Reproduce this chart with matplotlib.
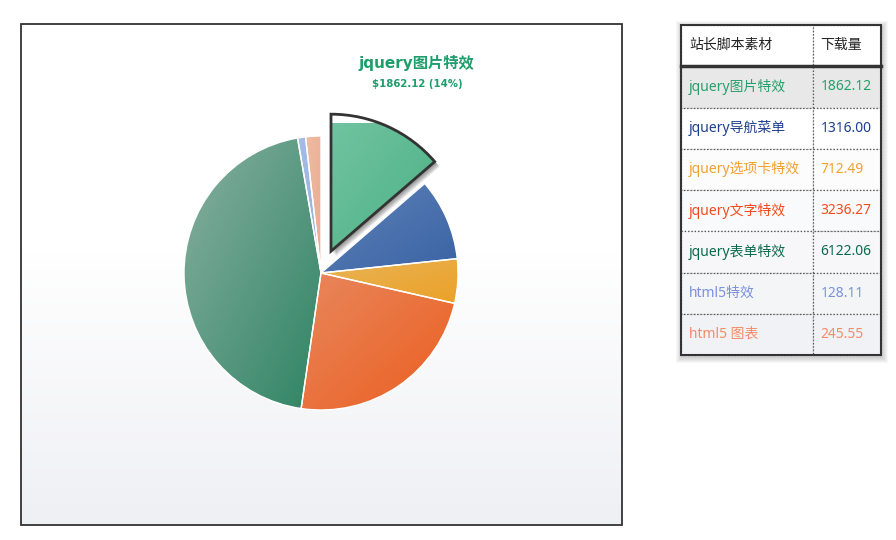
import numpy as np
import matplotlib
matplotlib.use('Agg')
import matplotlib.pyplot as plt
from matplotlib.colors import to_rgb
from matplotlib.patches import Rectangle, Wedge

plt.rcParams['font.family'] = ['DejaVu Sans', 'Noto Sans CJK SC']

# datos
names = ['jquery图片特效', 'jquery导航菜单', 'jquery选项卡特效', 'jquery文字特效',
         'jquery表单特效', 'html5特效', 'html5 图表']
values = [1862.12, 1316.00, 712.49, 3236.27, 6122.06, 128.11, 245.55]
header = ['站长脚本素材', '下载量']
selected = 0

# colores
light = ['#72c4a2', '#5f82b8', '#e9b457', '#e8875d', '#88b0a0', '#a6bde6', '#efbba4']
dark = ['#4cb184', '#3a63a4', '#eba128', '#ec5e1f', '#2f8464', '#93aedd', '#e9ab90']
text_colors = ['#25a06c', '#1f3f8e', '#f2a12e', '#f24b1f', '#0b6a4a', '#7b90e0', '#f68b66']
tfont = ['Noto Sans', 'Noto Sans CJK SC']


def fill_grad(ax, patch, c1, c2, z):
    x0, y0, x1, y1 = patch.get_path().get_extents().extents
    u = np.linspace(0, 1, 200)
    U, V = np.meshgrid(u, u)
    t = ((U + V) / 2)[..., None]
    img = np.array(to_rgb(c1)) * (1 - t) + np.array(to_rgb(c2)) * t
    im = ax.imshow(img, extent=(x0, x1, y0, y1), origin='upper',
                   interpolation='bilinear', zorder=z)
    im.set_clip_path(patch)


fig = plt.figure(figsize=(8.96, 5.40), dpi=100)

# fondo en pixeles
bg = fig.add_axes([0, 0, 1, 1])
bg.axis('off')
ys = np.arange(24, 526)
t = np.clip((ys - 250) / (525 - 250), 0, 1)[:, None, None]
col = np.ones(3) * (1 - t) + np.array([0.937, 0.941, 0.957]) * t
col = np.repeat(col, 2, axis=1)
bg.imshow(col, extent=(21, 622, 525, 24), origin='upper', aspect='auto', zorder=0)
bg.add_patch(Rectangle((21, 24), 601, 501, fill=False, ec='#333333', lw=1.3, zorder=2))
# sombra de la tabla
for k in range(1, 7):
    bg.add_patch(Rectangle((681 - k + 1, 25 - k + 2), 200 + 2 * k, 330 + 2 * k,
                           fc='black', ec='none', alpha=0.03, zorder=1))
bg.set_xlim(0, 896)
bg.set_ylim(540, 0)

# etiqueta del sector seleccionado
total = sum(values)
pct = values[selected] / total * 100
bg.text(416, 63, names[selected], color='#1d9e6b', fontsize=11, fontweight='bold',
        ha='center', va='center', zorder=3)
bg.text(417, 84, '\\$%.2f (%.0f%%)' % (values[selected], pct), color='#1d9e6b',
        fontsize=7.3, fontweight='bold', ha='center', va='center', zorder=3)

# pastel
pax = fig.add_axes([171 / 896, (540 - 423) / 540, 300 / 896, 300 / 540])
pax.axis('off')
explode = [24 if i == selected else 0 for i in range(len(values))]
wedges, _ = pax.pie(values, explode=explode, startangle=90, counterclock=False,
                    radius=137, center=(0, 0), colors=dark,
                    wedgeprops=dict(edgecolor='white', linewidth=1))
for i, w in enumerate(wedges):
    fill_grad(pax, w, light[i], dark[i], 1.5)
    w.set_facecolor('none')
    w.set_zorder(2)
    if i == selected:
        w.set_edgecolor('#333333')
        w.set_linewidth(2)
        # sombra
        for k in range(1, 6):
            sh = Wedge((w.center[0] + 1 + k * 0.8, w.center[1] - 1 - k * 0.8), w.r,
                       w.theta1, w.theta2, fc='black', ec='none', alpha=0.09, zorder=1)
            pax.add_patch(sh)
pax.set_xlim(-150, 150)
pax.set_ylim(-150, 150)
pax.set_aspect('auto')

# tabla
tax = fig.add_axes([681 / 896, (540 - 355) / 540, 200 / 896, 330 / 540])
tax.axis('off')
cells = [[n, '%.2f' % v] for n, v in zip(names, values)]
tbl = tax.table(cellText=cells, colLabels=header, bbox=[0, 0, 1, 1],
                colWidths=[132 / 200, 68 / 200], cellLoc='left', colLoc='left')
tbl.auto_set_font_size(False)
nrows = len(names)
for (r, c), cell in tbl.get_celld().items():
    cell.set_linestyle(':')
    cell.set_edgecolor('#555555')
    cell.set_linewidth(0.9)
    cell.PAD = 0.06 if c == 0 else 0.11
    txt = cell.get_text()
    txt.set_fontsize(10)
    txt.set_family(tfont)
    if r == 0:
        cell.set_facecolor('white')
        txt.set_color('#222222')
    else:
        if r == 1:
            cell.set_facecolor('#e8e8e8')
        else:
            f = (r - 2) / (nrows - 2)
            g = np.array([1, 1, 1]) * (1 - f) + np.array([0.945, 0.949, 0.961]) * f
            cell.set_facecolor(g)
        txt.set_color(text_colors[r - 1])
tax.add_patch(Rectangle((0, 0), 1, 1, transform=tax.transAxes, fill=False,
                        ec='#333333', lw=1.5, clip_on=False, zorder=5))
tax.plot([0, 1], [nrows / (nrows + 1)] * 2, color='#333333', lw=2.5,
         transform=tax.transAxes, clip_on=False, zorder=5)

fig.savefig('out.png', dpi=100)
